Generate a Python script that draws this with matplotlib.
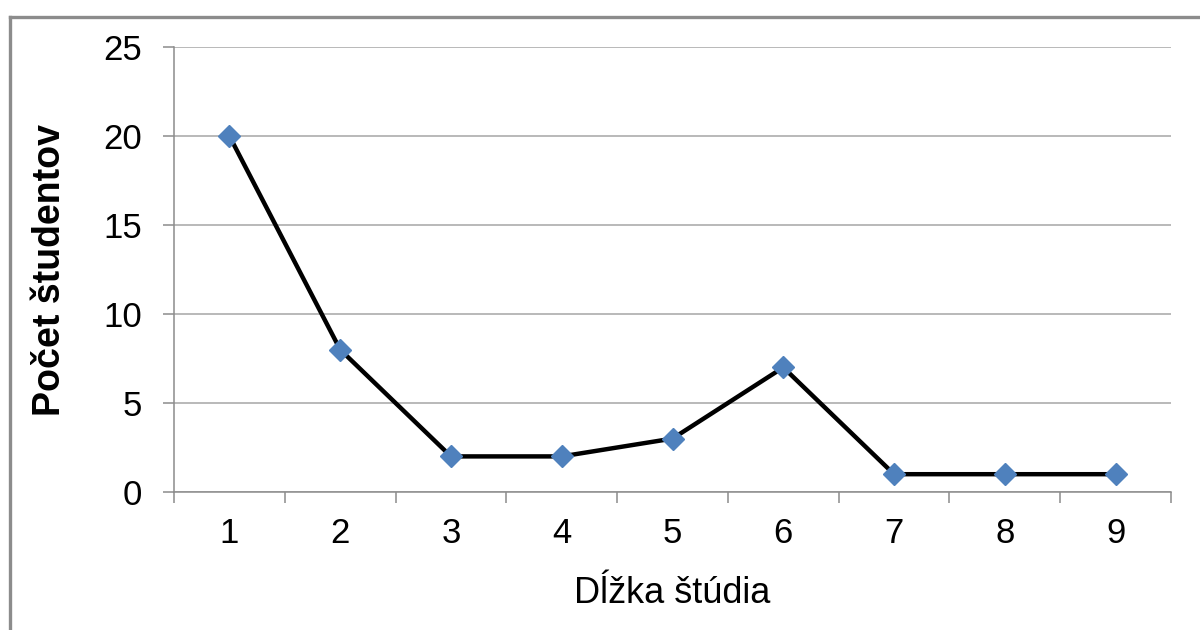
import numpy as np
import matplotlib
matplotlib.use('Agg')
import matplotlib.pyplot as plt
from matplotlib.lines import Line2D

# Data
categories = ['1', '2', '3', '4', '5', '6', '7', '8', '9']
students = [20, 8, 2, 2, 3, 7, 1, 1, 1]
y_ticks = [0, 5, 10, 15, 20, 25]

plt.rcParams['font.family'] = ['Liberation Sans', 'DejaVu Sans']

fig = plt.figure(figsize=(12, 6.3), dpi=100)
ax = fig.add_axes([174 / 1200, 1 - 492 / 630, (1171 - 174) / 1200, (492 - 47) / 630])

x = np.arange(1, len(categories) + 1)
ax.plot(x, students, color='black', linewidth=3.2, zorder=3,
        marker='D', markersize=11.5, markerfacecolor='#4F81BD',
        markeredgecolor='#4F81BD')

ax.set_xlim(0.5, len(categories) + 0.5)
ax.set_ylim(0, 25)
ax.set_yticks(y_ticks)
ax.set_xticks(x)
ax.set_xticklabels(categories)
# category boundary tick marks
ax.set_xticks(np.arange(0.5, len(categories) + 1), minor=True)

ax.grid(axis='y', color='#a6a6a6', linewidth=1.1, zorder=0)
for side in ['top', 'right']:
    ax.spines[side].set_visible(False)
for side in ['left', 'bottom']:
    ax.spines[side].set_color('#8c8c8c')
    ax.spines[side].set_linewidth(1.1)

ax.tick_params(axis='y', length=8, width=1.1, color='#8c8c8c', pad=15, labelsize=25)
ax.tick_params(axis='x', which='major', length=0, pad=18, labelsize=25)
ax.tick_params(axis='x', which='minor', length=8, width=1.1, color='#8c8c8c')

ax.set_xlabel('Dĺžka štúdia', fontsize=26, labelpad=19)
ax.set_ylabel('Počet študentov', fontsize=27, fontweight='bold')
ax.yaxis.set_label_coords(-0.106, 0.5)

# outer chart border (left and top visible)
fig.add_artist(Line2D([9.5 / 1200, 9.5 / 1200], [0, 1 - 16.5 / 630],
                      transform=fig.transFigure, color='#8c8c8c', linewidth=2.4))
fig.add_artist(Line2D([9.5 / 1200, 1], [1 - 16.5 / 630, 1 - 16.5 / 630],
                      transform=fig.transFigure, color='#8c8c8c', linewidth=2.4))

fig.savefig('out.png', dpi=100, facecolor='white')
